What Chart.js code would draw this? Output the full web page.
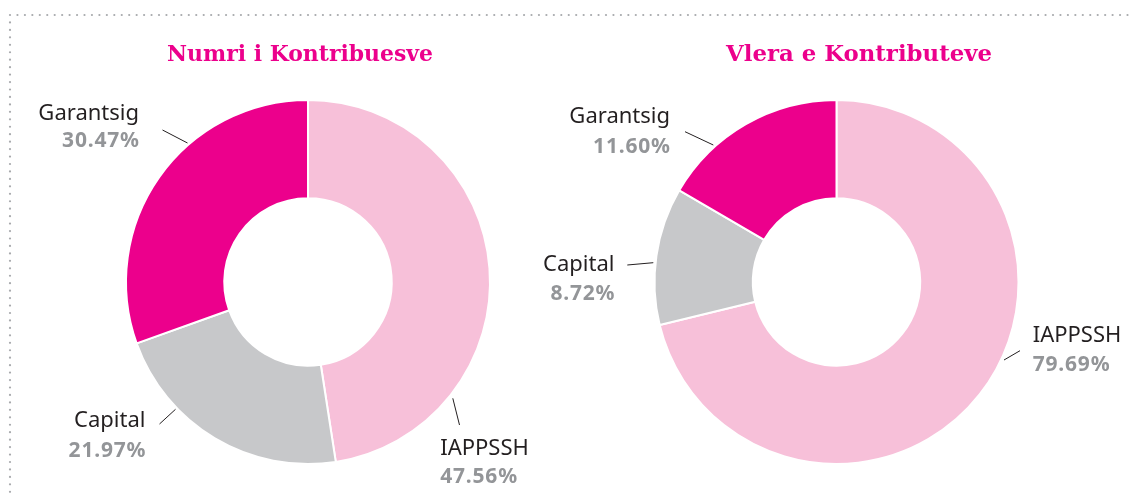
<!DOCTYPE html>
<html>
<head>
<meta charset="utf-8">
<script src="https://cdn.jsdelivr.net/npm/chart.js@4.4.1/dist/chart.umd.min.js"></script>
<style>
  html, body { margin: 0; padding: 0; background: #ffffff; }
  #wrap { position: relative; width: 1131px; height: 497px; overflow: hidden; }
  canvas { position: absolute; left: 0; top: 0; }
</style>
</head>
<body>
<div id="wrap">
  <canvas id="c1" width="1131" height="497"></canvas>
  <canvas id="c2" width="1131" height="497"></canvas>
</div>
<script>
// ---- data ----
const categories = ['IAPPSSH', 'Capital', 'Garantsig'];
const numriTitle = 'Numri i Kontribuesve';
const vleraTitle = 'Vlera e Kontributeve';
const numriValues = [47.56, 21.97, 30.47];
const numriPercentLabels = ['47.56%', '21.97%', '30.47%'];
const vleraSliceValues = [71.2, 12.2, 16.6];
const vleraPercentLabels = ['79.69%', '8.72%', '11.60%'];
const sliceColors = ['#F7C0D9', '#C7C8CA', '#EC008C'];

// ---- label layout (relative to doughnut centre) ----
const numriLabelLayout = [
  { line: [144.8, 116.3, 151.5, 143], align: 'left',  x: 132.2, y1: 173,   y2: 201.3 },
  { line: [-132.5, 127.3, -148.5, 142], align: 'right', x: -162.5, y1: 145, y2: 174.5 },
  { line: [-120.5, -139, -145.5, -152], align: 'right', x: -169, y1: -162, y2: -135 }
];
const vleraLabelLayout = [
  { line: [167.5, 78, 183.5, 68.7], align: 'left', x: 196.2, y1: 60.3, y2: 88.7 },
  { line: [-183.2, -19.3, -209.2, -17], align: 'right', x: -222, y1: -11.5, y2: 18 },
  { line: [-123.2, -137, -151.5, -150.3], align: 'right', x: -166.5, y1: -159.5, y2: -129 }
];

const labelPlugin = {
  id: 'sideLabels',
  afterDraw(chart, args, opts) {
    const ctx = chart.ctx;
    const arc = chart.getDatasetMeta(0).data[0];
    const cx = arc.x, cy = arc.y;
    ctx.save();
    // title
    ctx.font = 'bold 23px "DejaVu Serif"';
    ctx.fillStyle = '#EC008C';
    ctx.textAlign = 'center';
    ctx.textBaseline = 'alphabetic';
    const tw = ctx.measureText(opts.title).width;
    const sx = Math.min(1, 266 / tw);
    ctx.save();
    ctx.translate(cx + opts.titleDx, 61);
    ctx.scale(sx, 1);
    ctx.fillText(opts.title, 0, 0);
    ctx.restore();
    // labels
    opts.layout.forEach((l, i) => {
      ctx.beginPath();
      ctx.strokeStyle = '#231F20';
      ctx.lineWidth = 1;
      ctx.moveTo(cx + l.line[0], cy + l.line[1]);
      ctx.lineTo(cx + l.line[2], cy + l.line[3]);
      ctx.stroke();
      ctx.textAlign = l.align;
      ctx.font = '22px "Noto Sans"';
      ctx.fillStyle = '#231F20';
      ctx.letterSpacing = '0px';
      ctx.fillText(chart.data.labels[i], cx + l.x, cy + l.y1);
      ctx.font = 'bold 21px "Noto Sans"';
      ctx.letterSpacing = '0.8px';
      ctx.fillStyle = '#939598';
      ctx.fillText(opts.pct[i], cx + l.x + (l.align === 'right' ? 0.8 : 0), cy + l.y2);
      ctx.letterSpacing = '0px';
    });
    ctx.restore();
  }
};

const borderPlugin = {
  id: 'dotBorder',
  beforeDraw(chart) {
    const ctx = chart.ctx;
    ctx.save();
    ctx.fillStyle = '#A7A9AC';
    const step = 7.45;
    for (let x = 10; x < 1131; x += step) {
      ctx.beginPath(); ctx.arc(x, 15, 1.1, 0, Math.PI * 2); ctx.fill();
    }
    for (let y = 15 + step; y < 497; y += step) {
      ctx.beginPath(); ctx.arc(10, y, 1.1, 0, Math.PI * 2); ctx.fill();
    }
    ctx.restore();
  }
};

function makeChart(id, values, pct, title, titleDx, layout, padding, extraPlugins) {
  return new Chart(document.getElementById(id), {
    type: 'doughnut',
    data: {
      labels: categories,
      datasets: [{
        data: values,
        backgroundColor: sliceColors,
        borderColor: '#ffffff',
        borderWidth: 2,
        hoverOffset: 0
      }]
    },
    options: {
      responsive: false,
      animation: false,
      events: [],
      cutout: '46%',
      radius: 182,
      rotation: 0,
      layout: { padding: padding },
      plugins: {
        legend: { display: false },
        tooltip: { enabled: false },
        sideLabels: { title: title, titleDx: titleDx, layout: layout, pct: pct }
      }
    },
    plugins: [labelPlugin].concat(extraPlugins)
  });
}

makeChart('c1', numriValues, numriPercentLabels, numriTitle, -8, numriLabelLayout,
  { left: 127, right: 642, top: 101, bottom: 34 }, [borderPlugin]);
makeChart('c2', vleraSliceValues, vleraPercentLabels, vleraTitle, 22.5, vleraLabelLayout,
  { left: 655, right: 113, top: 101, bottom: 34 }, []);
</script>
</body>
</html>
